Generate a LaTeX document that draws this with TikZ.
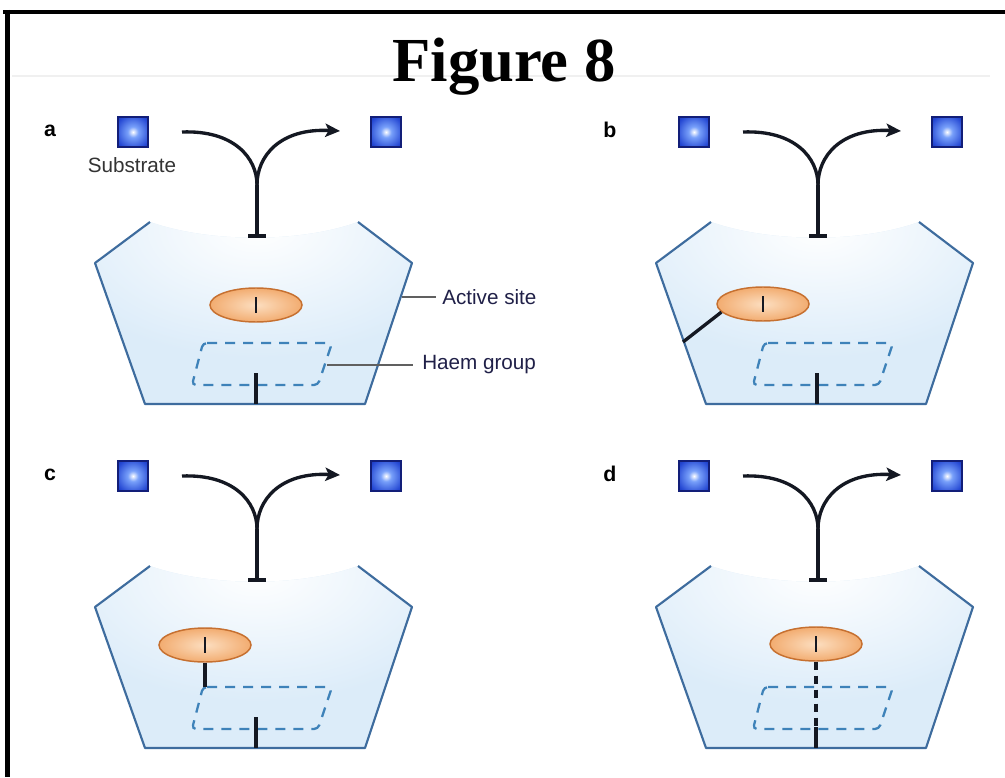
\documentclass[tikz,border=0pt]{standalone}
\usepackage{fontspec}
\setmainfont{Liberation Serif}
\setsansfont{Liberation Sans}
\usetikzlibrary{arrows.meta,shapes.geometric}
\definecolor{pocketfill}{RGB}{220,236,249}
\definecolor{pocketline}{RGB}{62,108,158}
\definecolor{haemblue}{RGB}{62,130,185}
\definecolor{inkblk}{RGB}{20,24,34}
\definecolor{sqlight}{RGB}{120,160,250}
\definecolor{sqblue}{RGB}{35,70,210}
\definecolor{sqdark}{RGB}{18,30,120}
\definecolor{ellin}{RGB}{252,222,192}
\definecolor{ellout}{RGB}{242,172,112}
\definecolor{ellline}{RGB}{198,112,48}
\definecolor{labelink}{RGB}{32,32,72}
\pgfdeclareradialshading{sqshade}{\pgfpoint{0bp}{0bp}}{color(0bp)=(white); color(9bp)=(sqlight); color(30bp)=(sqblue); color(50bp)=(sqdark); color(75bp)=(sqdark)}
\tikzset{
  sq/.style={rectangle, minimum size=22.5pt, inner sep=0pt, draw=sqdark, line width=0.9pt, shading=sqshade},
  ellip/.style={ellipse, minimum width=69pt, minimum height=25.5pt, inner sep=0pt, draw=ellline, line width=1.1pt, inner color=ellin, outer color=ellout},
  blk/.style={draw=inkblk, line width=2.5pt},
  ibar/.style={draw=inkblk, line width=2.1pt},
  pline/.style={draw=pocketline, line width=1.6pt, line join=round},
  haem/.style={draw=haemblue, line width=1.7pt, dash pattern=on 7.5pt off 6pt, rounded corners=3pt},
  pointer/.style={draw=gray!75!black, line width=0.9pt},
  lbl/.style={font=\sffamily\fontsize{15.5}{18}\selectfont, text=labelink, inner sep=0pt},
  letter/.style={font=\sffamily\bfseries\fontsize{16}{18}\selectfont, text=black, inner sep=0pt},
}
\newcommand\basepanel{%
  \begin{scope}
    \clip (150,222) -- (95,263) -- (145,404) -- (365,404) -- (412,263) -- (358,222) .. controls (300,243) and (210,243) .. (150,222) -- cycle;
    \fill[pocketfill] (90,215) rectangle (420,410);
    \shade[inner color=white, outer color=pocketfill] (257,228) ellipse (220 and 130);
  \end{scope}
  \draw[pline] (150,222) -- (95,263) -- (145,404) -- (365,404) -- (412,263) -- (358,222);
  \node[sq] (s1) at (133,132) {};
  \node[sq] (s2) at (386,132) {};
  \coordinate (in) at (182,132);
  \coordinate (out) at (340,131);
  \coordinate (j) at (257,185);
  \coordinate (bar) at (257,236);
  \draw[blk] (in) .. controls (234,130) and (257,158) .. (j);
  \draw[blk, -{Stealth[length=11pt, width=10pt, inset=2.5pt]}] (j) .. controls (257,156) and (280,128) .. (out);
  \draw[blk] (j) -- (bar);
  \draw[blk] (bar) ++(-9,0) -- ++(18,0);
  \coordinate (h1) at (203,343);
  \coordinate (h2) at (332,343);
  \coordinate (h3) at (318,385);
  \coordinate (h4) at (192,385);
  \draw[haem] (h1) -- (h2) -- (h3) -- (h4) -- cycle;
  \coordinate (hb) at (256,404);
}
\begin{document}
\begin{tikzpicture}[x=0.75pt, y=-0.75pt]
\useasboundingbox (0,0) rectangle (1005,777);
\fill[white] (0,0) rectangle (1005,777);
% frame
\draw[black, line width=3.6pt] (3,12) -- (1005,12);
\draw[black, line width=3.6pt] (7.5,10) -- (7.5,777);
\draw[black!6, line width=0.8pt] (12,76) -- (990,76);
\node[anchor=base, inner sep=0pt, font=\bfseries\fontsize{47}{50}\selectfont] (title) at (504,82) {Figure 8};

% panel a
\begin{scope}[name prefix=a-]
  \basepanel
  \node[letter] (lab) at (50,131) {a};
  \node[lbl, text=black!80] (sub) at (132,165) {Substrate};
  \node[ellip] (e) at (256,305) {};
  \draw[ibar] (e.center) ++(0,-8) -- ++(0,16);
  \draw[blk] (hb) -- ++(0,-31);
  \coordinate (as) at (402,297);
  \node[lbl, anchor=west] (aslab) at (442,297) {Active site};
  \draw[pointer] (as) -- ++(34,0);
  \coordinate (hg) at (327,365);
  \node[lbl, anchor=west] (hglab) at (422,365) {Haem group};
  \draw[pointer] (hg) -- ++(86,0);
\end{scope}

% panel b
\begin{scope}[shift={(561,0)}, name prefix=b-]
  \basepanel
  \node[letter] (lab) at (49,130) {b};
  \node[ellip] (e) at (202,304) {};
  \draw[ibar] (e.center) ++(0,-8) -- ++(0,16);
  \draw[blk] (hb) -- ++(0,-31);
  \coordinate (w) at (122,342);
  \draw[blk] (w) -- (e.191);
\end{scope}

% panel c
\begin{scope}[shift={(0,344)}, name prefix=c-]
  \basepanel
  \node[letter] (lab) at (50,131) {c};
  \node[ellip] (e) at (205,301) {};
  \draw[ibar] (e.center) ++(0,-8) -- ++(0,16);
  \draw[blk] (hb) -- ++(0,-31);
  \coordinate (ct) at (205,343);
  \draw[blk] (e.south) -- (ct);
\end{scope}

% panel d
\begin{scope}[shift={(561,344)}, name prefix=d-]
  \basepanel
  \node[letter] (lab) at (49,130) {d};
  \node[ellip] (e) at (255,300) {};
  \draw[ibar] (e.center) ++(0,-8) -- ++(0,16);
  \coordinate (dm) at (255,383);
  \coordinate (db) at (255,404);
  \draw[blk, dash pattern=on 6.5pt off 4pt] (e.south) -- (dm);
  \draw[blk] (dm) -- (db);
\end{scope}
\end{tikzpicture}
\end{document}
